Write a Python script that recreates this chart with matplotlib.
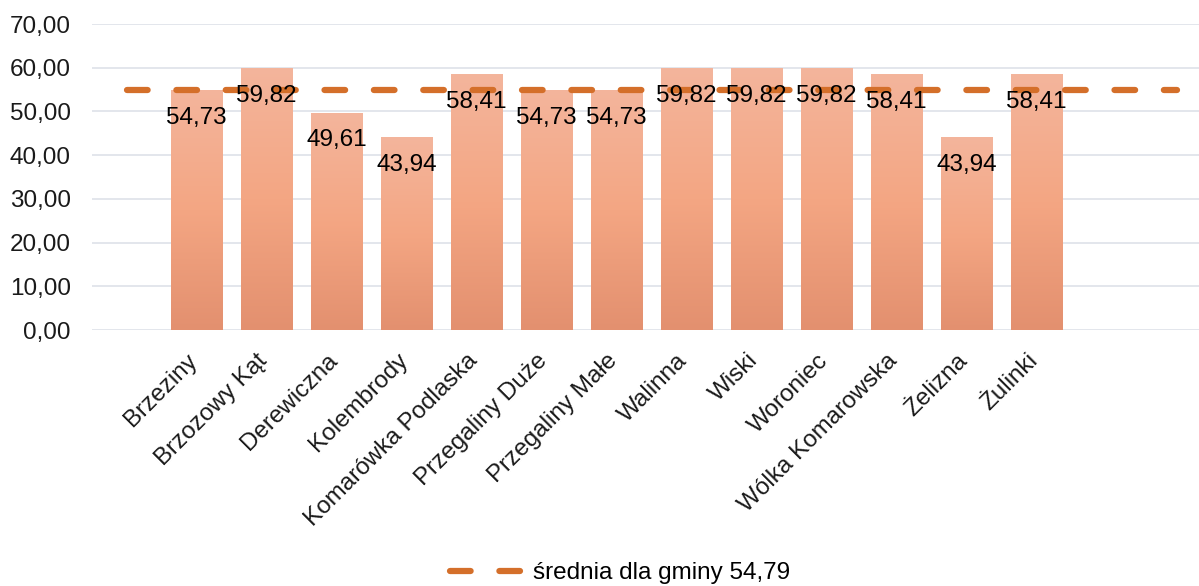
import numpy as np
import matplotlib
matplotlib.use("Agg")
import matplotlib.pyplot as plt
import matplotlib.transforms as mtransforms
from matplotlib.colors import LinearSegmentedColormap
from matplotlib.lines import Line2D

# =========================
# DATA
# =========================
categories = ["Brzeziny", "Brzozowy Kąt", "Derewiczna", "Kolembrody", "Komarówka Podlaska",
              "Przegaliny Duże", "Przegaliny Małe", "Walinna", "Wiski", "Woroniec",
              "Wólka Komarowska", "Żelizna", "Żulinki"]
values = [54.73, 59.82, 49.61, 43.94, 58.41, 54.73, 54.73, 59.82, 59.82, 59.82, 58.41, 43.94, 58.41]
average = 54.79
avg_label = "średnia dla gminy 54,79"
y_ticks = [0, 10, 20, 30, 40, 50, 60, 70]


def pl(v):
    return f"{v:.2f}".replace(".", ",")


plt.rcParams["font.family"] = ["Liberation Sans", "DejaVu Sans"]
FS = 17.5

fig = plt.figure(figsize=(11.99, 5.86), dpi=100)
ax = fig.add_axes([91.5 / 1199, 1 - 330 / 586, 1120 / 1199, 306 / 586])

# gradient bars (lighter top, darker bottom)
grad = LinearSegmentedColormap.from_list("g", ["#E3906F", "#F4A683", "#F3B59C"])
x = np.arange(len(categories))
width = 0.73
g = np.linspace(0, 1, 256).reshape(-1, 1)
for xi, v in zip(x, values):
    ax.imshow(g, cmap=grad, origin="lower", aspect="auto",
              extent=[xi - width / 2, xi + width / 2, 0, v], zorder=2)
    ax.annotate(pl(v), (xi, v), xytext=(0, -27), textcoords="offset pixels",
                ha="center", va="center", fontsize=FS, color="black", zorder=4)

# average line
line_x = np.arange(-1, len(categories) + 2)
ax.plot(line_x, [average] * len(line_x), color="#D46F2A", lw=4.5,
        dashes=(3.3, 4.6), dash_capstyle="round", zorder=3)

ax.set_xlim(-1.5, len(categories) + 1.5)
ax.set_ylim(0, 70)
ax.set_yticks(y_ticks)
ax.set_yticklabels([pl(t) for t in y_ticks], fontsize=FS, color="#1a1a1a")
ax.set_xticks(x)
ax.set_xticklabels(categories, rotation=45, ha="right", rotation_mode="anchor",
                   fontsize=FS, color="#1a1a1a")
ax.tick_params(length=0, axis="y", pad=15)
ax.tick_params(length=0, axis="x", pad=14)
shift = mtransforms.ScaledTranslation(-10 / 100, 0, fig.dpi_scale_trans)
for lbl in ax.get_xticklabels():
    lbl.set_transform(lbl.get_transform() + shift)
ax.grid(axis="y", color="#E1E4EA", lw=1.3, zorder=0)
ax.set_axisbelow(True)
for s in ax.spines.values():
    s.set_visible(False)

handle = Line2D([0], [0], color="#D46F2A", lw=4.5, dashes=(3.3, 4.6), dash_capstyle="round")
fig.legend([handle], [avg_label], loc="center", bbox_to_anchor=(620 / 1199, 1 - 573 / 586),
           frameon=False, fontsize=FS, handlelength=3.3, handletextpad=0.15)

fig.savefig("out.png", dpi=100)
